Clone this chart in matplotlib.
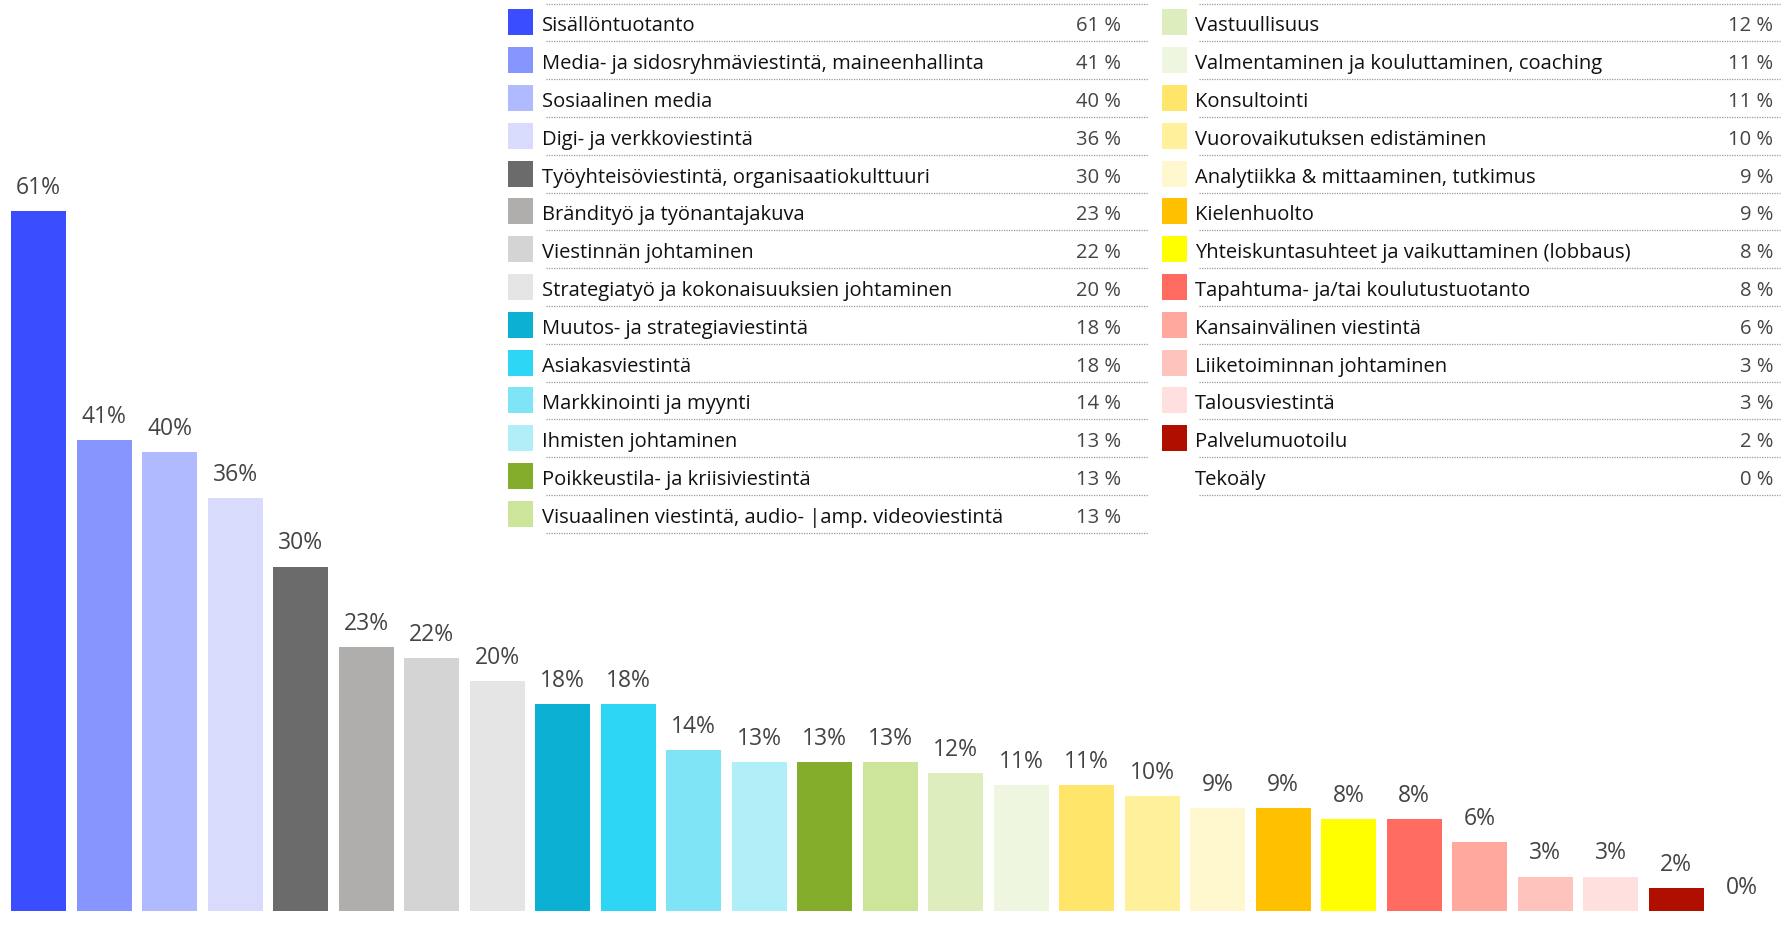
import matplotlib
matplotlib.use("Agg")
import matplotlib.pyplot as plt
from matplotlib.patches import Rectangle

labels = [
    "Sisällöntuotanto",
    "Media- ja sidosryhmäviestintä, maineenhallinta",
    "Sosiaalinen media",
    "Digi- ja verkkoviestintä",
    "Työyhteisöviestintä, organisaatiokulttuuri",
    "Brändityö ja työnantajakuva",
    "Viestinnän johtaminen",
    "Strategiatyö ja kokonaisuuksien johtaminen",
    "Muutos- ja strategiaviestintä",
    "Asiakasviestintä",
    "Markkinointi ja myynti",
    "Ihmisten johtaminen",
    "Poikkeustila- ja kriisiviestintä",
    "Visuaalinen viestintä, audio- |amp. videoviestintä",
    "Vastuullisuus",
    "Valmentaminen ja kouluttaminen, coaching",
    "Konsultointi",
    "Vuorovaikutuksen edistäminen",
    "Analytiikka & mittaaminen, tutkimus",
    "Kielenhuolto",
    "Yhteiskuntasuhteet ja vaikuttaminen (lobbaus)",
    "Tapahtuma- ja/tai koulutustuotanto",
    "Kansainvälinen viestintä",
    "Liiketoiminnan johtaminen",
    "Talousviestintä",
    "Palvelumuotoilu",
    "Tekoäly",
]
values = [61, 41, 40, 36, 30, 23, 22, 20, 18, 18, 14, 13, 13, 13,
          12, 11, 11, 10, 9, 9, 8, 8, 6, 3, 3, 2, 0]
colors = [
    "#3A4DFF", "#8796FF", "#B0BAFF", "#D8DBFB", "#6B6B6B", "#B0ADAD",
    "#D4D4D4", "#E5E5E5", "#0BB0D2", "#2DD6F5", "#80E4F7", "#B0EEF8",
    "#85AD2C", "#CDE59A", "#DDEDBE", "#EEF6DF", "#FFE66B", "#FFF09B",
    "#FFF8CE", "#FFC000", "#FFFF00", "#FF6B61", "#FFA89E", "#FFC3BE",
    "#FFE0DE", "#B00F00", "#FFFFFF",
]

W, H = 1787, 925
FONT = "Open Sans"
plt.rcParams["font.family"] = [FONT, "DejaVu Sans"]

fig = plt.figure(figsize=(W / 100, H / 100), dpi=100)
ax = fig.add_axes([0, 0, 1, 1])

# bar geometry (pixels -> data)
pitch = 65.5
x0 = 38.5
base_y = 911
px_per_pct = 11.48
ax.set_xlim(-x0 / pitch, (W - x0) / pitch)
ax.set_ylim(-(H - base_y) / px_per_pct, base_y / px_per_pct)
ax.axis("off")

xs = list(range(len(values)))
ax.bar(xs, values, width=55 / pitch, color=colors, edgecolor="none")
for x, v in zip(xs, values):
    ax.annotate(f"{v}%", (x, v), xytext=(0, 8), textcoords="offset points",
                ha="center", va="bottom", fontsize=16.5, color="#444444")

# legend overlay in pixel coordinates
lg = fig.add_axes([0, 0, 1, 1], facecolor="none")
lg.set_xlim(0, W)
lg.set_ylim(H, 0)
lg.axis("off")

row_pitch = 37.8
line_top = 3.5
cols = [
    dict(sw=508, tx=542, val=1121, l0=546, l1=1148),
    dict(sw=1162, tx=1195, val=1773, l0=1199, l1=1780),
]
n_left = 14
for i, (lab, v, c) in enumerate(zip(labels, values, colors)):
    col = cols[0] if i < n_left else cols[1]
    r = i if i < n_left else i - n_left
    yc = line_top + row_pitch * (r + 0.5)
    if c.upper() != "#FFFFFF":
        lg.add_patch(Rectangle((col["sw"], yc - 13), 25, 26, facecolor=c,
                               edgecolor="none"))
    lg.text(col["tx"], yc + 4, lab, ha="left", va="center", fontsize=14.5,
            color="#111111")
    lg.text(col["val"], yc + 4, f"{v} %", ha="right", va="center",
            fontsize=14.5, color="#444444")
    if r == 0:
        lg.plot([col["l0"], col["l1"]], [line_top, line_top], ls=(0, (1, 1)),
                lw=0.9, color="#9a9a9a")
    yl = line_top + row_pitch * (r + 1)
    lg.plot([col["l0"], col["l1"]], [yl, yl], ls=(0, (1, 1)), lw=0.9,
            color="#9a9a9a")

fig.savefig("out.png", dpi=100, facecolor="white")
